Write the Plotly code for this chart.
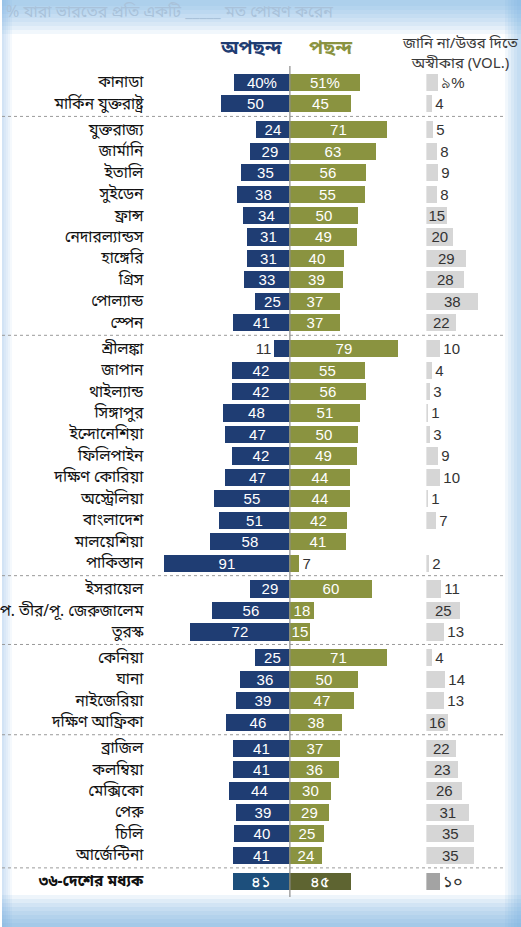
import plotly.graph_objects as go

# ---------------- data ----------------
countries = ["কানাডা", "মার্কিন যুক্তরাষ্ট্র",
             "যুক্তরাজ্য", "জার্মানি", "ইতালি", "সুইডেন", "ফ্রান্স", "নেদারল্যান্ডস", "হাঙ্গেরি", "গ্রিস", "পোল্যান্ড", "স্পেন",
             "শ্রীলঙ্কা", "জাপান", "থাইল্যান্ড", "সিঙ্গাপুর", "ইন্দোনেশিয়া", "ফিলিপাইন", "দক্ষিণ কোরিয়া", "অস্ট্রেলিয়া", "বাংলাদেশ", "মালয়েশিয়া", "পাকিস্তান",
             "ইসরায়েল", "প. তীর/পূ. জেরুজালেম", "তুরস্ক",
             "কেনিয়া", "ঘানা", "নাইজেরিয়া", "দক্ষিণ আফ্রিকা",
             "ব্রাজিল", "কলম্বিয়া", "মেক্সিকো", "পেরু", "চিলি", "আর্জেন্টিনা",
             "৩৬-দেশের মধ্যক"]
groups = [0, 0,
          1, 1, 1, 1, 1, 1, 1, 1, 1, 1,
          2, 2, 2, 2, 2, 2, 2, 2, 2, 2, 2,
          3, 3, 3,
          4, 4, 4, 4,
          5, 5, 5, 5, 5, 5,
          6]
unfavorable = [40, 50,
               24, 29, 35, 38, 34, 31, 31, 33, 25, 41,
               11, 42, 42, 48, 47, 42, 47, 55, 51, 58, 91,
               29, 56, 72,
               25, 36, 39, 46,
               41, 41, 44, 39, 40, 41,
               41]
favorable = [51, 45,
             71, 63, 56, 55, 50, 49, 40, 39, 37, 37,
             79, 55, 56, 51, 50, 49, 44, 44, 42, 41, 7,
             60, 18, 15,
             71, 50, 47, 38,
             37, 36, 30, 29, 25, 24,
             45]
dont_know = [9, 4,
             5, 8, 9, 8, 15, 20, 29, 28, 38, 22,
             10, 4, 3, 1, 3, 9, 10, 1, 7, None, 2,
             11, 25, 13,
             4, 14, 13, 16,
             22, 23, 26, 31, 35, 35,
             10]

title_text = "% যারা ভারতের প্রতি একটি _____ মত পোষণ করেন"
header_unfav = "অপছন্দ"
header_fav = "পছন্দ"
header_dk = "জানি না/উত্তর দিতে<br>অস্বীকার (VOL.)"

# ---------------- helpers ----------------
BN = str.maketrans("0123456789", "০১২৩৪৫৬৭৮৯")
n = len(countries)
last = n - 1

def labels(vals, bn_first=False):
    out = []
    for i, v in enumerate(vals):
        if v is None:
            out.append("")
            continue
        s = str(v)
        if i == last or (i == 0 and bn_first):
            s = s.translate(BN)
        if i == 0:
            s += "%"
        if i == last:
            s = "<b>" + s + "</b>"
        out.append(s)
    return out

GAP = 0.21
ypos = [i + GAP * g for i, g in enumerate(groups)]

W, H = 521, 927
ROW0_PX, ROW_PX = 82, 21.44
def ypx(p):
    return ROW0_PX + p * ROW_PX
y_lo, y_hi = -1.0, 39.0
ydom = [1 - ypx(y_hi) / H, 1 - ypx(y_lo) / H]

PX_PER = 1.38
CX = 289
x_min, x_max = -100, 85
xdom = [(CX + x_min * PX_PER) / W, (CX + x_max * PX_PER) / W]
DK0 = 426
dk_max = 55
x2dom = [DK0 / W, (DK0 + dk_max * PX_PER) / W]

NAVY = "#1f3d73"
OLIVE = "#8a9340"
GREY = "#d6d6d6"
NAVY_MED = "#1d4f7c"
OLIVE_MED = "#5e6431"
GREY_MED = "#a3a3a3"

un_colors = [NAVY] * (n - 1) + [NAVY_MED]
fa_colors = [OLIVE] * (n - 1) + [OLIVE_MED]
dk_colors = [GREY] * (n - 1) + [GREY_MED]

NUMFONT = "Liberation Sans, Arial, sans-serif"
BNFONT = "Noto Sans Bengali, Noto Sans, Lohit Bengali, sans-serif"

un_text = labels(unfavorable)
fa_text = labels(favorable)
dk_text = labels(dont_know, bn_first=True)

un_pos = ["inside" if v >= 13 else "outside" for v in unfavorable]
fa_pos = ["inside" if v >= 13 else "outside" for v in favorable]
dk_pos = ["inside" if (v is not None and v >= 15) else "outside" for v in dont_know]

fig = go.Figure()

fig.add_trace(go.Bar(
    y=ypos, x=[-v for v in unfavorable], orientation="h", width=0.8,
    marker=dict(color=un_colors, line=dict(width=0)),
    text=un_text, textposition=un_pos, insidetextanchor="middle",
    insidetextfont=dict(color="white", size=15, family=NUMFONT),
    outsidetextfont=dict(color="#333333", size=15, family=NUMFONT),
    constraintext="none", textangle=0, cliponaxis=False,
    hoverinfo="skip", xaxis="x", yaxis="y", showlegend=False))

fig.add_trace(go.Bar(
    y=ypos, x=favorable, orientation="h", width=0.8,
    marker=dict(color=fa_colors, line=dict(width=0)),
    text=fa_text, textposition=fa_pos, insidetextanchor="middle",
    insidetextfont=dict(color="white", size=15, family=NUMFONT),
    outsidetextfont=dict(color="#333333", size=15, family=NUMFONT),
    constraintext="none", textangle=0, cliponaxis=False,
    hoverinfo="skip", xaxis="x", yaxis="y", showlegend=False))

fig.add_trace(go.Bar(
    y=ypos, x=[0 if v is None else v for v in dont_know], orientation="h", width=0.8,
    marker=dict(color=dk_colors, line=dict(width=0)),
    text=dk_text, textposition=dk_pos, insidetextanchor="middle",
    insidetextfont=dict(color="#333333", size=15, family=NUMFONT),
    outsidetextfont=dict(color="#333333", size=15, family=NUMFONT),
    constraintext="none", textangle=0, cliponaxis=False,
    hoverinfo="skip", xaxis="x2", yaxis="y", showlegend=False))

shapes = []
# background gradient frame
LB = "rgba(120,175,225,{a})"
for k in range(8):
    shapes.append(dict(type="rect", xref="paper", yref="paper", x0=0, x1=1,
                       y0=1 - (6 + 4 * k) / H, y1=1, fillcolor=LB.format(a=0.10),
                       line=dict(width=0), layer="below"))
    shapes.append(dict(type="rect", xref="paper", yref="paper", x0=0, x1=1,
                       y0=0, y1=(4 + 4 * k) / H, fillcolor=LB.format(a=0.13),
                       line=dict(width=0), layer="below"))
for k in range(5):
    shapes.append(dict(type="rect", xref="paper", yref="paper", x0=1 - (4 + 3 * k) / W, x1=1,
                       y0=0, y1=1, fillcolor=LB.format(a=0.10),
                       line=dict(width=0), layer="below"))
    shapes.append(dict(type="rect", xref="paper", yref="paper", x0=0, x1=(2 + 2 * k) / W,
                       y0=0, y1=1, fillcolor=LB.format(a=0.07),
                       line=dict(width=0), layer="below"))

# group separators
for i in range(n - 1):
    if groups[i] != groups[i + 1]:
        ysep = (ypos[i] + ypos[i + 1]) / 2
        shapes.append(dict(type="line", xref="paper", yref="y", x0=0, x1=505 / W,
                           y0=ysep, y1=ysep, line=dict(color="#9a9a9a", width=1, dash="dot")))
# center line
shapes.append(dict(type="line", xref="x", yref="y", x0=0, x1=0,
                   y0=ypos[0] - 0.75, y1=ypos[-1] + 0.75,
                   line=dict(color="#8c8c8c", width=1.2)))

annotations = [
    dict(text=title_text, xref="paper", yref="paper", x=2 / W, y=1 - 13 / H,
         xanchor="left", yanchor="middle", showarrow=False,
         font=dict(family=BNFONT, size=16, color="#a9c2da")),
    dict(text="<b>" + header_unfav + "</b>", xref="paper", yref="paper", x=250 / W, y=1 - 50 / H,
         xanchor="center", yanchor="middle", showarrow=False,
         font=dict(family=BNFONT, size=19, color=NAVY)),
    dict(text="<b>" + header_fav + "</b>", xref="paper", yref="paper", x=330 / W, y=1 - 50 / H,
         xanchor="center", yanchor="middle", showarrow=False,
         font=dict(family=BNFONT, size=19, color=OLIVE)),
    dict(text=header_dk, xref="paper", yref="paper", x=460 / W, y=1 - 54 / H,
         xanchor="center", yanchor="middle", showarrow=False, align="center",
         font=dict(family=BNFONT, size=15, color="#3a3a3a")),
]

ticktext = countries[:-1] + ["<b>" + countries[-1] + "</b>"]

fig.update_layout(
    width=W, height=H,
    margin=dict(l=0, r=0, t=0, b=0),
    paper_bgcolor="white", plot_bgcolor="rgba(0,0,0,0)",
    barmode="overlay", bargap=0,
    shapes=shapes, annotations=annotations,
    showlegend=False,
    xaxis=dict(domain=xdom, range=[x_min, x_max], visible=False, fixedrange=True),
    xaxis2=dict(domain=x2dom, range=[0, dk_max], visible=False, anchor="y", fixedrange=True),
    yaxis=dict(domain=ydom, range=[y_hi, y_lo], tickmode="array", tickvals=ypos,
               ticktext=ticktext, showgrid=False, zeroline=False, showline=False,
               ticks="", ticklabelstandoff=8, anchor="x",
               tickfont=dict(family=BNFONT, size=15.5, color="#111111"), fixedrange=True),
)

fig.write_html("out.html", config={"displayModeBar": False},
               post_script="document.body.style.margin='0';document.body.style.overflow='hidden';")
